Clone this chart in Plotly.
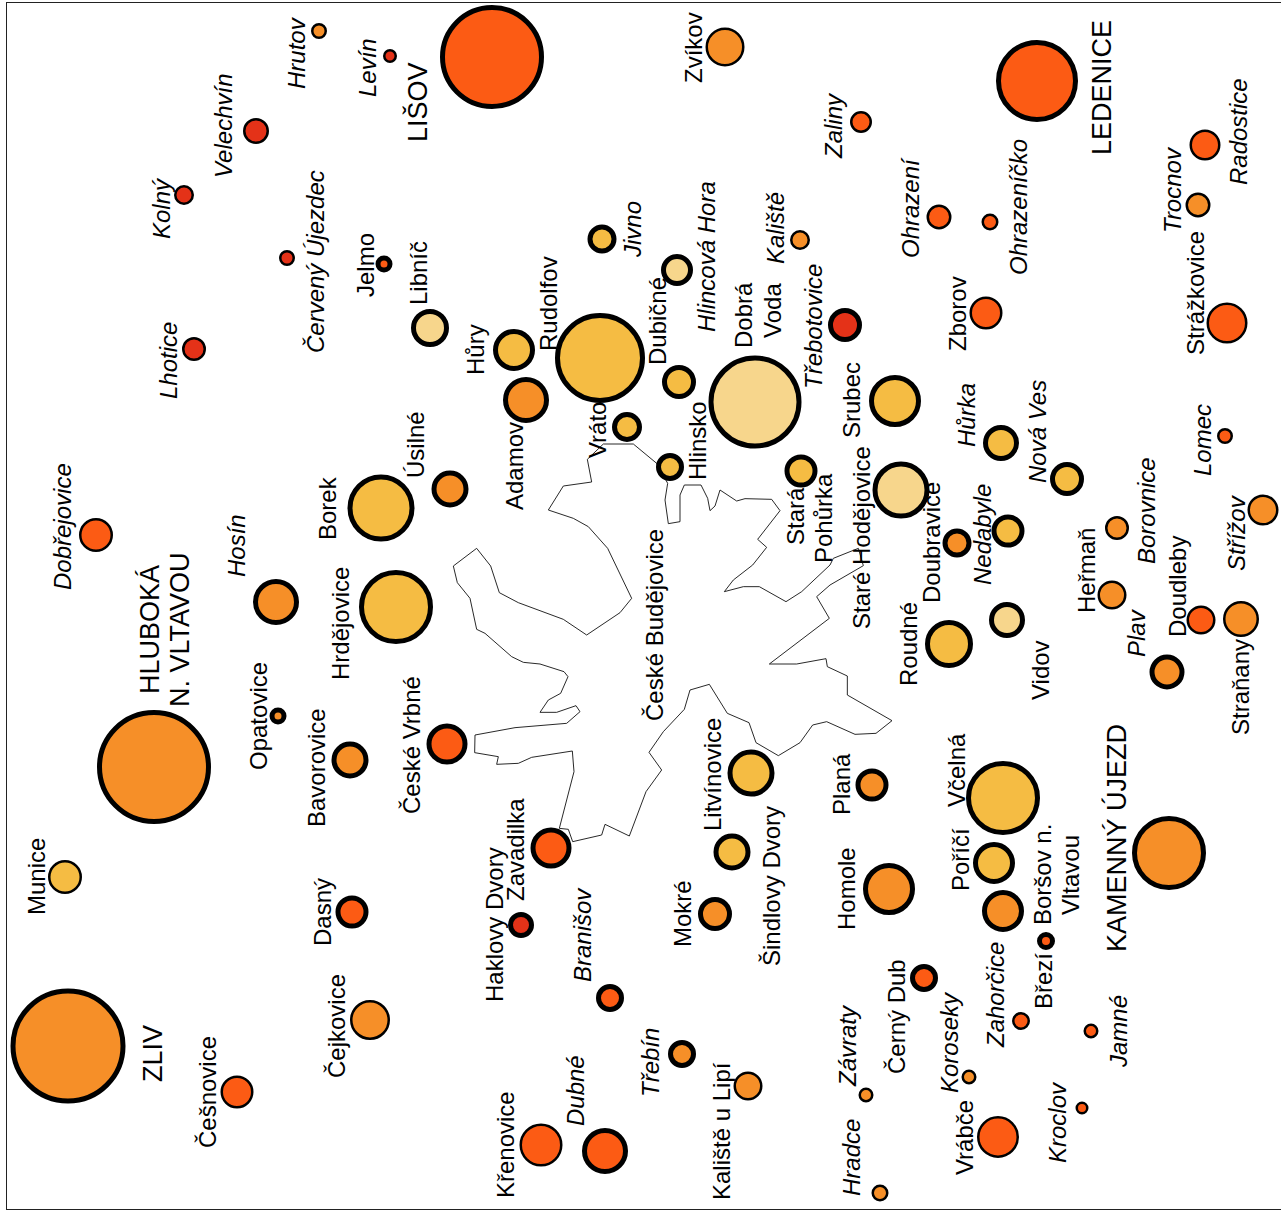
import plotly.graph_objects as go

WIDTH, HEIGHT = 1281, 1211
C1, C2, C3, C4, C5 = "#FC5B14", "#F68F28", "#F5BC43", "#F7D68C", "#E43218"

places = ["Hrutov","Levín","LIŠOV","Velechvín","Kolný","Červený Újezdec","Jelmo","Libníč","Lhotice","Dobřejovice",
          "Zvíkov","LEDENICE","Zaliny","Radostice","Trocnov","Strážkovice","Ohrazení","Ohrazeníčko","Zborov","Kaliště",
          "Hlincová Hora","Jivno","Dubičné","Dobrá Voda","Třebotovice","Rudolfov","Hůry","Adamov","Vráto","Hlinsko",
          "Srubec","Hůrka","Nová Ves","Lomec","Stará Pohůrka","Staré Hodějovice","Úsilné","Borek","Doubravice","Nedabyle",
          "Borovnice","Střížov","Heřmaň","Doudleby","Straňany","Plav","Vidov","Roudné","Hosín","Hrdějovice",
          "Opatovice","Bavorovice","České Vrbné","Hluboká n. Vltavou","Litvínovice","Planá","Včelná","Kamenný Újezd","Munice","Zavadilka",
          "Haklovy Dvory","Šindlovy Dvory","Poříčí","Homole","Boršov n. Vltavou","Mokré","Dasný","Březí","Branišov","Černý Dub",
          "Zahorčice","Čejkovice","Zliv","Jamné","Třebín","Češnovice","Koroseky","Závraty","Kaliště u Lipí","Kroclov",
          "Vrábče","Křenovice","Dubné","Hradce"]
place_x = [319,390,492,256,184,287,384,430,194,96,
           725,1037,861,1205,1198,1227,939,990,986,800,
           677,602,679,755,845,600,514,526,627,670,
           895,1001,1067,1225,801,901,450,381,957,1008,
           1117,1263,1112,1201,1241,1167,1007,949,276,396,
           278,350,447,154,751,872,1003,1169,65,551,
           521,732,994,889,1003,715,352,1046,610,924,
           1021,370,68,1091,682,237,969,866,748,1082,
           998,541,605,880]
place_y = [31,56,57,131,195,258,264,328,349,535,
           47,81,122,145,205,323,217,222,313,240,
           270,239,382,402,325,358,350,400,427,467,
           401,443,479,436,471,490,489,508,543,531,
           528,510,595,620,619,672,620,644,602,607,
           716,760,744,767,773,785,798,853,877,848,
           925,852,863,889,911,914,912,941,998,978,
           1021,1020,1046,1031,1054,1092,1077,1095,1086,1108,
           1137,1145,1151,1193]
place_d = [16,14,104,26,20,16,17,38,24,34,
           39,82,22,31,25,41,25,17,33,20,
           32,29,34,93,34,90,42,46,30,28,
           52,36,34,16,33,57,37,67,29,33,
           24,31,29,29,36,35,36,48,46,74,
           17,37,41,114,47,33,74,74,34,41,
           26,37,42,52,42,34,33,18,28,28,
           18,40,115,15,28,33,15,15,29,13,
           42,43,46,17]
place_lw = [2.5,2.5,5,2.5,2.5,2.5,5,5,2.5,2.5,
            2.5,5,2.5,2.5,2.5,2.5,2.5,2.5,2.5,2.5,
            5,5,5,5,5,5,5,5,5,5,
            5,5,5,2.5,5,5,5,5,5,5,
            2.5,2.5,2.5,2.5,2.5,5,5,5,5,5,
            5,5,5,5,5,5,5,5,2.5,5,
            5,5,5,5,5,5,5,5,5,5,
            2.5,2.5,5,2.5,5,2.5,2.5,2.5,2.5,2.5,
            2.5,2.5,5,2.5]
place_color = [C2,C5,C1,C5,C5,C5,C1,C4,C5,C1,
               C2,C1,C1,C1,C2,C1,C1,C1,C1,C2,
               C4,C3,C3,C4,C5,C3,C3,C2,C3,C3,
               C3,C3,C3,C1,C3,C4,C2,C3,C2,C3,
               C2,C2,C2,C1,C2,C2,C4,C3,C2,C3,
               C2,C2,C1,C2,C3,C2,C3,C2,C3,C1,
               C5,C3,C3,C2,C2,C2,C1,C1,C1,C1,
               C1,C2,C2,C1,C2,C1,C2,C2,C2,C1,
               C1,C1,C1,C2]

label_text = ["Hrutov","Levín","LIŠOV","Velechvín","Kolný","Červený Újezdec","Jelmo","Libníč","Lhotice","Dobřejovice",
              "Zvíkov","LEDENICE","Zaliny","Radostice","Trocnov","Strážkovice","Ohrazení","Ohrazeníčko","Zborov","Kaliště",
              "Hlincová Hora","Jivno","Dubičné","Dobrá","Voda","Třebotovice","Rudolfov","Hůry","Adamov","Vráto","Hlinsko",
              "Srubec","Hůrka","Nová Ves","Lomec","Stará","Pohůrka","Staré Hodějovice","Úsilné","Borek","Doubravice","Nedabyle",
              "Borovnice","Střížov","Heřmaň","Doudleby","Straňany","Plav","Vidov","Roudné","Hosín","Hrdějovice",
              "Opatovice","Bavorovice","České Vrbné","HLUBOKÁ","N. VLTAVOU","Litvínovice","Planá","Včelná","KAMENNÝ ÚJEZD","Munice","Zavadilka",
              "Haklovy Dvory","Šindlovy Dvory","Poříčí","Homole","Boršov n.","Vltavou","Mokré","Dasný","Březí","Branišov","Černý Dub",
              "Zahorčice","Čejkovice","ZLIV","Jamné","Třebín","Češnovice","Koroseky","Závraty","Kaliště u Lipí","Kroclov",
              "Vrábče","Křenovice","Dubné","Hradce","České Budějovice"]
label_x = [296,367,417,223,161,315,365,418,168,62,
           693,1102,833,1238,1172,1195,910,1018,957,775,
           706,632,657,743,772,813,548,475,514,597,697,
           851,966,1037,1202,795,823,861,415,327,931,982,
           1146,1236,1086,1177,1240,1136,1040,908,236,340,
           258,316,411,150,180,712,841,956,1116,36,515,
           494,771,960,846,1042,1070,682,322,1043,582,896,
           995,336,153,1118,650,207,949,847,721,1057,
           964,505,575,851,654]
label_y = [53,68,102,126,208,262,265,273,361,527,
           48,88,126,132,190,293,208,207,314,228,
           257,230,321,315,311,327,304,350,466,430,441,
           400,415,432,440,516,518,538,445,508,543,535,
           511,533,571,587,687,633,670,644,546,624,
           716,768,745,630,630,775,784,770,838,877,850,
           925,886,860,889,875,875,914,912,981,935,1017,
           995,1026,1054,1032,1063,1092,1042,1046,1131,1122,
           1138,1145,1091,1158,625]
label_italic = {"Hrutov","Levín","Velechvín","Kolný","Červený Újezdec","Lhotice","Dobřejovice","Zaliny","Radostice",
                "Trocnov","Ohrazení","Ohrazeníčko","Kaliště","Hlincová Hora","Jivno","Třebotovice","Hůrka","Nová Ves",
                "Lomec","Nedabyle","Borovnice","Střížov","Plav","Hosín","Branišov","Zahorčice","Jamné","Třebín",
                "Koroseky","Závraty","Kroclov","Dubné","Hradce"}
label_large = {"LIŠOV","LEDENICE","HLUBOKÁ","N. VLTAVOU","KAMENNÝ ÚJEZD","ZLIV"}

outline_zx = [650,580,490,442,455,370,325,400,445,503,575,540,440,370,235,178,152,110,40,52,90,110,135,215,250,300,372,384,362,325,300,350,408,420,380,225,105,104,175,170,235,275,397,402,358,385,398,485,495,568,618,665,627,670,733,750,808,862,927,948,1015,1080,1118,1160,1245,1308,1356,1222,1222,1162,1158,1070,988,1168,1130,1170,1270,1255,1180,1170,1085,1038,958,910,853,880,938,980,953,1020,995,915,890,840,825,810,803,783,733,720,720,685,675,683,650]
outline_zy = [130,72,72,118,186,198,270,295,320,385,535,578,645,598,548,518,438,385,438,488,535,628,640,710,727,732,755,770,820,840,877,877,857,875,910,923,945,998,1010,1033,1030,1012,993,1055,1225,1228,1265,1245,1213,1248,1115,1050,997,935,868,810,793,880,908,968,1007,968,915,905,943,940,902,825,768,740,716,732,732,595,530,495,437,385,415,435,515,545,500,500,515,480,435,382,358,272,238,236,243,210,258,272,235,195,195,225,305,311,240,190,130]
outline_x = [440 + v / 3 for v in outline_zx]
outline_y = [420 + v / 3 for v in outline_zy]

fig = go.Figure()
fig.add_trace(go.Scatter(x=outline_x, y=outline_y, mode="lines",
                         line=dict(color="#111111", width=0.9), hoverinfo="skip"))
fig.add_trace(go.Scatter(x=place_x, y=place_y, mode="markers", text=places, hoverinfo="text",
                         marker=dict(size=[d - w for d, w in zip(place_d, place_lw)], color=place_color, opacity=1,
                                     line=dict(color="#000000", width=place_lw))))
for t, x, y in zip(label_text, label_x, label_y):
    fig.add_annotation(x=x, y=y, text=t, textangle=-90, showarrow=False, xanchor="center", yanchor="middle",
                       font=dict(family="Liberation Sans", color="#000000",
                                 size=27 if t in label_large else 24,
                                 style="italic" if t in label_italic else "normal"))

axis = dict(showgrid=False, zeroline=False, showticklabels=False, ticks="", showline=True,
            linecolor="#222222", linewidth=1.2)
fig.update_layout(width=WIDTH, height=HEIGHT, margin=dict(l=7, r=0, t=3, b=2), showlegend=False,
                  plot_bgcolor="white", paper_bgcolor="white",
                  xaxis=dict(range=[7, WIDTH], mirror=True, **axis),
                  yaxis=dict(range=[HEIGHT - 2, 3], mirror=False, **axis))
fig.write_html("out.html", config={"displayModeBar": False},
               post_script="document.body.style.margin='0';document.documentElement.style.overflow='hidden';")
